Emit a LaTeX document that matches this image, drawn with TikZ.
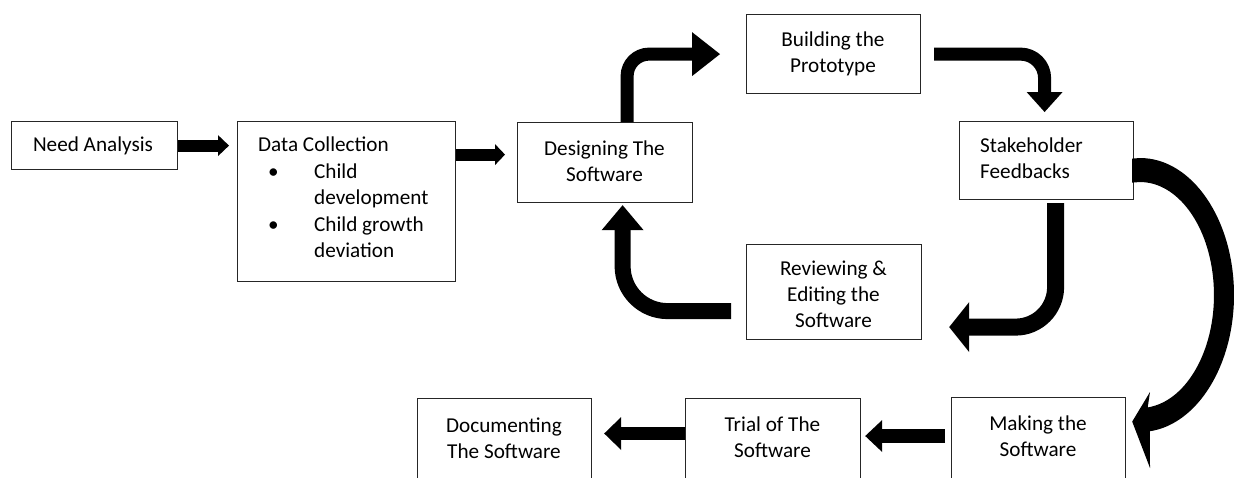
\documentclass[tikz,border=0pt]{standalone}
\usepackage{fontspec}
\setmainfont{Carlito}
\usetikzlibrary{arrows.meta,calc}
\tikzset{
  box/.style={draw=black!85, line width=1.2pt, inner sep=0pt, anchor=north west},
  lbl/.style={font=\fontsize{21.2pt}{26pt}\selectfont, inner sep=0pt, align=center},
  blk/.style={draw=black, line cap=butt, line join=round},
}
\begin{document}
\begin{tikzpicture}[x=1pt,y=-1pt]
\useasboundingbox (0,0) rectangle (1234,477);
\clip (0,0) rectangle (1234,477);
% boxes
\node[box, minimum width=166pt, minimum height=48pt] (need) at (11,121) {};
\node[box, minimum width=218pt, minimum height=160pt] (data) at (237,121) {};
\node[box, minimum width=175pt, minimum height=80pt] (design) at (517,122) {};
\node[box, minimum width=174pt, minimum height=79pt] (build) at (746,14) {};
\node[box, minimum width=174pt, minimum height=78pt] (stake) at (959,121) {};
\node[box, minimum width=175pt, minimum height=95pt] (review) at (746,244) {};
\node[box, minimum width=174pt, minimum height=95pt] (making) at (951,397) {};
\node[box, minimum width=175pt, minimum height=95pt] (trial) at (685,398) {};
\node[box, minimum width=174pt, minimum height=95pt] (doc) at (417,398) {};
% texts
\node[lbl] (needtxt) at (93,146) {Need Analysis};
\node[lbl, align=left, anchor=north west, font=\fontsize{21.2pt}{26.5pt}\selectfont] (datatxt) at (258,137)
  {Data Collection\\
   \makebox[56pt][l]{\hspace{10pt}\textbullet}Child\\
   \hspace*{56pt}development\\
   \makebox[56pt][l]{\hspace{10pt}\textbullet}Child growth\\
   \hspace*{56pt}deviation};
\node[lbl] (designtxt) at (604.5,161) {Designing The\\Software};
\node[lbl] (buildtxt) at (833,54) {Building the\\Prototype};
\node[lbl, align=left, anchor=west] (staketxt) at (980,158) {Stakeholder\\Feedbacks};
\node[lbl] (reviewtxt) at (833.5,294) {Reviewing \&\\Editing the\\Software};
\node[lbl] (makingtxt) at (1038,436) {Making the\\Software};
\node[lbl] (trialtxt) at (772.5,437) {Trial of The\\Software};
\node[lbl] (doctxt) at (504,438) {Documenting\\The Software};
% connectors
\draw[blk, line width=12pt, -{Triangle[length=11pt,width=21pt,line width=0pt]}, shorten >=8pt]
  (need.east) -- (need.east -| data.west);
\coordinate (b1) at ($(design.west)+(0,-8)$);
\draw[blk, line width=12pt, -{Triangle[length=10pt,width=21pt,line width=0pt]}, shorten >=12pt]
  (data.east |- b1) -- (b1);
\coordinate (c0) at ($(design.north)+(22,0)$);
\draw[blk, line width=13pt, -{Triangle[length=28pt,width=44pt,line width=0pt]}, rounded corners=22pt, shorten >=26pt]
  (c0) -- (c0 |- build.west) -- (build.west);
\coordinate (d1) at ($(stake.north)+(-2,0)$);
\draw[blk, line width=13pt, -{Triangle[length=20pt,width=36pt,line width=0pt]}, rounded corners=24pt, shorten <=13pt, shorten >=9pt]
  (build.east) -- (build.east -| d1) -- (d1);
\coordinate (e0) at ($(stake.south)+(9,0)$);
\coordinate (e1) at ($(review.east)+(0,35)$);
\draw[blk, line width=17pt, -{Triangle[length=20pt,width=50pt,line width=0pt]}, rounded corners=40pt, shorten <=3pt, shorten >=27pt]
  (e0) -- (e0 |- e1) -- (e1);
\coordinate (f0) at ($(review.west)+(0,19)$);
\coordinate (f1) at ($(design.south)+(17.5,0)$);
\draw[blk, line width=16pt, -{Triangle[length=25pt,width=42pt,line width=0pt]}, rounded corners=45pt, shorten <=15pt, shorten >=2pt]
  (f0) -- (f0 -| f1) -- (f1);
% big curved arrow Stakeholder -> Making
\fill[black] ($(stake.east)+(-2,-2)$) -- (1140,158)
  arc[start angle=-90, end angle=84, x radius=94, y radius=137]
  -- (1150,468) -- ($(making.east)+(6,-23.5)$) -- (1150,392) -- (1147.7,407.4)
  arc[start angle=84, end angle=-90, x radius=74, y radius=113]
  -- ($(stake.east)+(-2,22)$) -- cycle;
\coordinate (h0) at ($(making.north west)+(0,39)$);
\draw[blk, line width=14pt, -{Triangle[length=17pt,width=32pt,line width=0pt]}, shorten <=6pt, shorten >=4pt]
  (h0) -- (h0 -| trial.east);
\coordinate (i0) at ($(trial.north west)+(0,35.5)$);
\draw[blk, line width=13pt, -{Triangle[length=17pt,width=33pt,line width=0pt]}, shorten >=12pt]
  (i0) -- (i0 -| doc.east);
\end{tikzpicture}
\end{document}
